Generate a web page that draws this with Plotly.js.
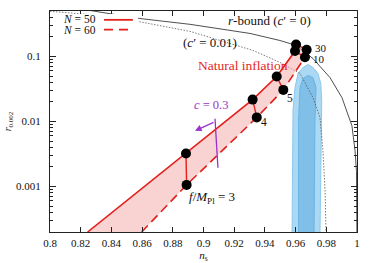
<!DOCTYPE html>
<html><head><meta charset="utf-8">
<script src="https://cdn.plot.ly/plotly-3.0.1.min.js"></script>
<style>html,body{margin:0;padding:0;background:#fff}#plot{width:374px;height:263px}</style>
</head><body><div id="plot"></div>
<script>
// r-bound (c' = 0), solid thin black
const nsBound0 = [0.8261, 0.8573, 0.8912, 0.9303, 0.9498, 0.9603, 0.9713, 0.9824, 0.9902, 0.9967, 0.9987, 0.99967, 0.99995];
const rBound0  = [0.510, 0.386, 0.312, 0.226, 0.176, 0.148, 0.093, 0.0474, 0.0233, 0.0086, 0.0036, 0.0017, 0.0002];
// c' = 0.01, dotted
const nsBound1 = [0.8, 0.8313, 0.8573, 0.8912, 0.9322, 0.9498, 0.9629, 0.9713, 0.9759, 0.9778, 0.9792, 0.9798];
const rBound1  = [0.495, 0.43, 0.346, 0.243, 0.124, 0.081, 0.0547, 0.0233, 0.0115, 0.0036, 0.00086, 0.0002];
// Planck contours
const ns95 = [0.9577, 0.9580, 0.9583, 0.9596, 0.9616, 0.9648, 0.9681, 0.9713, 0.9746, 0.9764, 0.9770, 0.9766, 0.9759];
const r95  = [0.0002, 0.00354, 0.0147, 0.0333, 0.0547, 0.0676, 0.0753, 0.0676, 0.0547, 0.0383, 0.0209, 0.00354, 0.0002];
const ns68 = [0.9619, 0.9619, 0.9629, 0.9648, 0.9681, 0.9713, 0.9733, 0.9726, 0.9720];
const r68  = [0.0002, 0.01028, 0.0333, 0.0457, 0.0510, 0.0474, 0.0333, 0.01028, 0.0002];
// natural inflation: f/M_Pl values and points
const fLabels = ["3", "4", "5", "10", "30"];
const ns50 = [0.8886, 0.9320, 0.9477, 0.9596, 0.9603];
const r50  = [0.00322, 0.0217, 0.0491, 0.121, 0.153];
const ns60 = [0.8890, 0.9347, 0.9520, 0.9661, 0.9672];
const r60  = [0.00106, 0.01156, 0.0306, 0.0975, 0.127];
// line tails to the bottom of the frame
const ns50Line = [0.8245].concat(ns50);
const r50Line  = [0.0002].concat(r50);
const ns60Line = [0.8597].concat(ns60);
const r60Line  = [0.0002].concat(r60);
// c = 0.3 line
const nsC = [0.9075, 0.9094];
const rC  = [0.01104, 0.00194];
// ticks
const xTickVals = [0.8, 0.82, 0.84, 0.86, 0.88, 0.9, 0.92, 0.94, 0.96, 0.98, 1];
const xTickText = ["0.8", "0.82", "0.84", "0.86", "0.88", "0.9", "0.92", "0.94", "0.96", "0.98", "1"];
const yTickVals = [0.001, 0.01, 0.1];
const yTickText = ["0.001", "0.01", "0.1"];

const RED = '#e41f1c', PURPLE = '#9933cc';
const FONT = '"Liberation Serif", "Times New Roman", serif';

const yMinor = [];
for (let e = -4; e <= -1; e++) for (let m = 2; m <= 9; m++) { const v = m * Math.pow(10, e); if (v > 0.0002 && v < 0.5) yMinor.push(v); }

const segX = [], segY = [];
for (let i = 0; i < ns50.length; i++) { segX.push(ns50[i], ns60[i], null); segY.push(r50[i], r60[i], null); }

const traces = [
  {x: ns95, y: r95, mode: 'lines', fill: 'toself', fillcolor: '#abd8f2', line: {color: '#8cc8ec', width: 1}, hoverinfo: 'skip'},
  {x: ns68, y: r68, mode: 'lines', fill: 'toself', fillcolor: '#80c0e8', line: {color: '#6ab2e2', width: 1}, hoverinfo: 'skip'},
  {x: nsBound0, y: rBound0, mode: 'lines', line: {color: '#222', width: 0.8}},
  {x: nsBound1, y: rBound1, mode: 'lines', line: {color: '#444', width: 0.7, dash: '1.5px,1.5px'}},
  {x: ns50Line.concat(ns60Line.slice().reverse()), y: r50Line.concat(r60Line.slice().reverse()), mode: 'none', fill: 'toself', fillcolor: 'rgba(244,165,165,0.5)'},
  {x: ns50Line, y: r50Line, mode: 'lines', line: {color: RED, width: 1.6}},
  {x: ns60Line, y: r60Line, mode: 'lines', line: {color: RED, width: 1.6, dash: '9px,5px'}},
  {x: segX, y: segY, mode: 'lines', line: {color: RED, width: 1.4}},
  {x: nsC, y: rC, mode: 'lines', line: {color: PURPLE, width: 1.3}},
  {x: ns50.concat(ns60), y: r50.concat(r60), mode: 'markers', marker: {color: '#000', size: 10}}
];

const L = Math.log10;
const annotations = [
  {x: 0.9433, y: L(0.36), text: '<i>r</i>-bound (<i>c</i>′ = 0)', showarrow: false, font: {size: 13}},
  {x: 0.9042, y: L(0.164), text: '(<i>c</i>′ = 0.01)', showarrow: false, font: {size: 13}},
  {x: 0.9257, y: L(0.0726), text: 'Natural inflation', showarrow: false, font: {size: 13.5, color: RED}},
  {x: 0.9055, y: L(0.0182), text: '<i>c</i> = 0.3', showarrow: false, font: {size: 12.5, color: PURPLE}},
  {x: 0.8895, y: L(0.000667), text: '<i>f</i>/<i>M</i><sub>Pl</sub> = 3', showarrow: false, xanchor: 'left', font: {size: 13}},
  {x: 0.9362, y: L(0.00993), text: fLabels[1], showarrow: false, xanchor: 'left', font: {size: 11.5}},
  {x: 0.9530, y: L(0.0233), text: fLabels[2], showarrow: false, xanchor: 'left', font: {size: 11.5}},
  {x: 0.9703, y: L(0.0899), text: fLabels[3], showarrow: false, xanchor: 'left', font: {size: 11}},
  {x: 0.9716, y: L(0.137), text: fLabels[4], showarrow: false, xanchor: 'left', font: {size: 11}},
  {x: 0.8945, y: L(0.00721), ax: 0.9075, ay: L(0.00993), axref: 'x', ayref: 'y', text: '', showarrow: true, arrowhead: 2, arrowsize: 1, arrowwidth: 1.3, arrowcolor: PURPLE},
  // legend
  {xref: 'paper', yref: 'paper', x: 0.036, y: 0.964, xanchor: 'left', yanchor: 'middle', text: '<i>N</i> = 50', showarrow: false, font: {size: 11.5}},
  {xref: 'paper', yref: 'paper', x: 0.036, y: 0.913, xanchor: 'left', yanchor: 'middle', text: '<i>N</i> = 60', showarrow: false, font: {size: 11.5}}
];

const shapes = [
  {type: 'rect', xref: 'paper', yref: 'paper', x0: 0.016, x1: 0.287, y0: 0.880, y1: 0.986, fillcolor: '#fff', line: {width: 0}, layer: 'above'},
  {type: 'line', xref: 'paper', yref: 'paper', x0: 0.176, x1: 0.270, y0: 0.960, y1: 0.960, line: {color: RED, width: 1.8}, layer: 'above'},
  {type: 'line', xref: 'paper', yref: 'paper', x0: 0.176, x1: 0.270, y0: 0.916, y1: 0.916, line: {color: RED, width: 1.8, dash: '9px,6px'}, layer: 'above'}
];

const layout = {
  width: 374, height: 263,
  margin: {l: 50, r: 17, t: 11, b: 31},
  paper_bgcolor: '#fff', plot_bgcolor: '#fff',
  showlegend: false,
  font: {family: FONT, size: 11, color: '#111'},
  xaxis: {
    range: [0.8, 1.0], tickmode: 'array', tickvals: xTickVals, ticktext: xTickText,
    ticks: 'inside', ticklen: 5, tickcolor: '#222', mirror: 'ticks', showline: true, linecolor: '#222', linewidth: 1,
    showgrid: false, zeroline: false, tickfont: {size: 11}, ticklabelstandoff: 1,
    title: {text: '<i>n</i><sub>s</sub>', font: {size: 11}, standoff: 1}
  },
  yaxis: {
    type: 'log', range: [L(0.0002), L(0.5)], tickmode: 'array', tickvals: yTickVals, ticktext: yTickText,
    ticks: 'inside', ticklen: 6, tickcolor: '#222', mirror: 'ticks', showline: true, linecolor: '#222', linewidth: 1,
    minor: {tickmode: 'array', tickvals: yMinor, ticks: 'inside', ticklen: 3, tickcolor: '#222', showgrid: false},
    showgrid: false, zeroline: false, tickfont: {size: 11}, ticklabelstandoff: 6,
    title: {text: '<i>r</i><sub>0.002</sub>', font: {size: 10}, standoff: 2}
  },
  annotations: annotations,
  shapes: shapes
};

Plotly.newPlot('plot', traces, layout, {staticPlot: true, displayModeBar: false});
</script></body></html>
